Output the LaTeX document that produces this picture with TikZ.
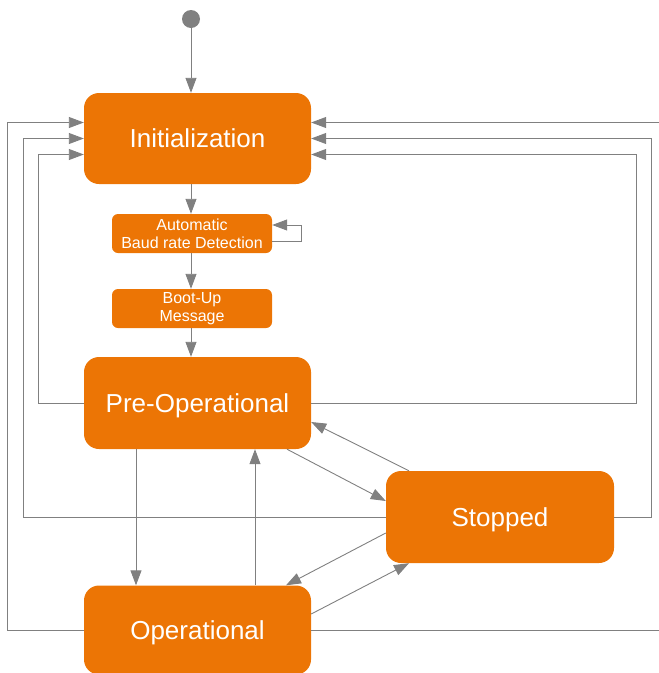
\documentclass[tikz,border=0pt]{standalone}
\usepackage{fontspec}
\setmainfont{Liberation Sans}
\usetikzlibrary{arrows.meta}
\definecolor{stateorange}{RGB}{236,117,5}
\definecolor{linegray}{RGB}{128,128,128}

\begin{document}
\begin{tikzpicture}[x=1pt,y=-1pt,
        bigstate/.style={draw=none,fill=stateorange,text=white,rounded corners=15pt,minimum width=227pt,minimum height=91pt,inner sep=0pt,text depth=0pt,font=\fontsize{26pt}{30pt}\selectfont},
        smallstate/.style={draw=none,fill=stateorange,text=white,rounded corners=6pt,minimum width=160pt,minimum height=39pt,inner sep=0pt,align=center,font=\fontsize{16pt}{18pt}\selectfont},
        arr/.style={draw=linegray,line width=0.9pt,-{Triangle[length=15pt,width=11pt]}}]
        \useasboundingbox (0,0) rectangle (659,673);
        \node[circle,fill=linegray,minimum size=18pt,inner sep=0pt] (start) at (191,19) {};
        \node[bigstate] (init) at (197.5,138.5) {Initialization};
        \node[smallstate] (baud) at (192,233.5) {Automatic\\Baud rate Detection};
        \node[smallstate] (boot) at (192,308.5) {Boot-Up\\Message};
        \node[bigstate,minimum height=92pt] (preop) at (197.5,403) {Pre-Operational};
        \node[bigstate,minimum width=228pt,minimum height=92pt] (stopped) at (500,517) {Stopped};
        \node[bigstate,minimum height=89pt] (oper) at (197.5,630) {Operational};
        % main start-up path
        \draw[arr] (start) -- (start |- init.north);
        \draw[arr] (start |- init.south) -- (start |- baud.north);
        \draw[arr] ([yshift=-7.5pt]baud.east) -- ++(29,0) |- ([yshift=8.5pt]baud.east);
        \draw[arr] (start |- baud.south) -- (start |- boot.north);
        \draw[arr] (start |- boot.south) -- (start |- preop.north);
        % reset lines back to initialization
        \draw[arr] (oper.west) -- ++(-76,0) |- ([yshift=16pt]init.west);
        \draw[arr] (stopped.west) -- ++(-362,0) |- (init.west);
        \draw[arr] (preop.west) -- ++(-45,0) |- ([yshift=-16pt]init.west);
        \draw[arr] (oper.east) -- ++(350,0) |- ([yshift=16pt]init.east);
        \draw[arr] (stopped.east) -- ++(37,0) |- (init.east);
        \draw[arr] (preop.east) -- ++(325,0) |- ([yshift=-16pt]init.east);
        % transitions between the running states
        \draw[arr] ([xshift=-61.5pt]preop.south) -- ([xshift=-61.5pt]oper.north);
        \draw[arr] ([xshift=57.5pt]oper.north) -- ([xshift=57.5pt]preop.south);
        \draw[arr] ([xshift=-91pt]stopped.north) -- ([yshift=-19pt]preop.east);
        \draw[arr] ([xshift=89.5pt]preop.south) -- ([yshift=16pt]stopped.west);
        \draw[arr] ([yshift=-16pt]stopped.west) -- ([xshift=88.5pt]oper.north);
        \draw[arr] ([yshift=16pt]oper.east) -- ([xshift=-91pt]stopped.south);
    \end{tikzpicture}
\end{document}
